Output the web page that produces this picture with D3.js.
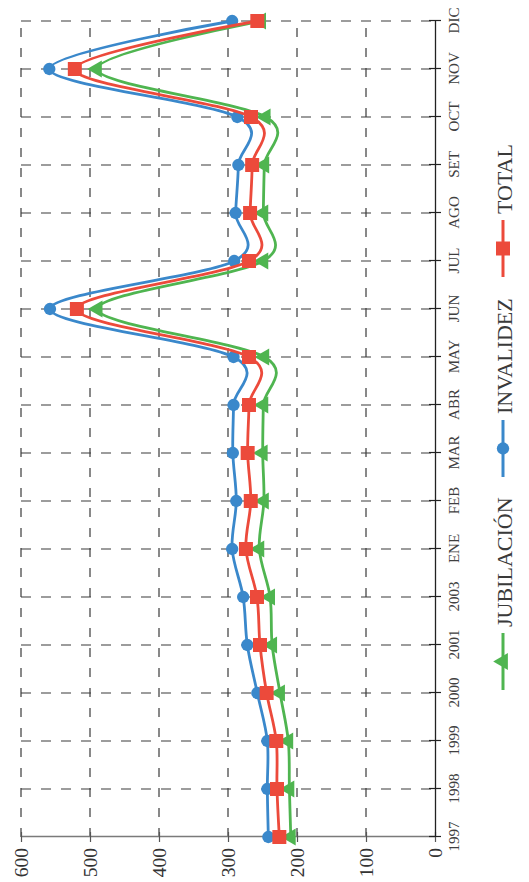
<!DOCTYPE html>
<html><head><meta charset="utf-8">
<script src="https://cdn.jsdelivr.net/npm/d3@7"></script>
<style>html,body{margin:0;padding:0;background:#fff;}</style>
</head><body>
<svg id="chart" width="529" height="882"></svg>
<script>
const categories = ["1997","1998","1999","2000","2001","2003","ENE","FEB","MAR","ABR","MAY","JUN","JUL","AGO","SET","OCT","NOV","DIC"];
const jubilacion = [209, 211, 212.6, 224.6, 236, 239, 254.6, 248, 249.7, 248.8, 247.4, 489, 248.8, 248.8, 247.4, 245.4, 490, 252];
const invalidez  = [241.5, 243, 243, 257.5, 272, 278, 294, 288, 293, 292, 292, 558, 291, 289, 285, 286.5, 559, 294];
const total      = [225.6, 229, 230, 244, 253.6, 258, 274, 267, 271.5, 269.6, 269.6, 519, 269.6, 268, 265, 266.7, 522, 257.5];
const valueTicks = [0, 100, 200, 300, 400, 500, 600];
const seriesNames = ["JUBILACIÓN", "INVALIDEZ", "TOTAL"];

const W = 882, H = 529;
const svg = d3.select("#chart");
// whole chart drawn in landscape coordinates, then rotated 90° counter-clockwise
const g = svg.append("g").attr("transform", `translate(0,${W}) rotate(-90)`);

const x = d3.scalePoint().domain(categories).range([45, 861]);
const y = d3.scaleLinear().domain([0, 600]).range([435, 21]);

const serif = "'Liberation Serif','Times New Roman',serif";
const gridColor = "#3a3a3a";

// value gridlines (dashed)
g.append("g").selectAll("line").data(valueTicks.filter(v => v > 0)).join("line")
  .attr("x1", x.range()[0]).attr("x2", x.range()[1])
  .attr("y1", d => y(d)).attr("y2", d => y(d))
  .attr("stroke", gridColor).attr("stroke-width", 1.2).attr("stroke-dasharray", "9,11");

// category gridlines (dashed)
g.append("g").selectAll("line").data(categories.slice(1)).join("line")
  .attr("x1", d => x(d)).attr("x2", d => x(d))
  .attr("y1", y(600)).attr("y2", y(0))
  .attr("stroke", gridColor).attr("stroke-width", 1.2).attr("stroke-dasharray", "10,10");

// value axis
const yAxis = d3.axisLeft(y).tickValues(valueTicks).tickSize(0).tickPadding(11);
const ya = g.append("g").attr("transform", `translate(${x.range()[0]},0)`).call(yAxis);
ya.select(".domain").attr("stroke", "#7a7a7a").attr("stroke-width", 1.6);
ya.selectAll(".tick text").attr("font-family", serif).attr("font-size", 19.5).attr("fill", "#333");
ya.selectAll(".tick").append("line").attr("x1", -5).attr("x2", 5).attr("stroke", "#555").attr("stroke-width", 1.2);

// category axis
const xAxis = d3.axisBottom(x).tickSize(0).tickPadding(19);
const xa = g.append("g").attr("transform", `translate(0,${y(0)})`).call(xAxis);
xa.select(".domain").attr("stroke", "#222").attr("stroke-width", 1.3);
xa.selectAll(".tick text").attr("font-family", serif).attr("font-size", 15).attr("fill", "#404040").attr("dy", "0.3em");
xa.selectAll(".tick").append("line").attr("y1", -6).attr("y2", 6).attr("stroke", "#222").attr("stroke-width", 1.2);

const colors = {"JUBILACIÓN": "#4fb550", "INVALIDEZ": "#3a88cb", "TOTAL": "#ec4a3b"};
const symbols = {"JUBILACIÓN": d3.symbolTriangle, "INVALIDEZ": d3.symbolCircle, "TOTAL": d3.symbolSquare};
const sizes = {"JUBILACIÓN": 125, "INVALIDEZ": 120, "TOTAL": 196};
const data = {"JUBILACIÓN": jubilacion, "INVALIDEZ": invalidez, "TOTAL": total};

const line = d3.line().x((d, i) => x(categories[i])).y(d => y(d)).curve(d3.curveCardinal.tension(0));

seriesNames.forEach(name => {
  const s = g.append("g");
  s.append("path").datum(data[name]).attr("d", line)
    .attr("fill", "none").attr("stroke", colors[name]).attr("stroke-width", 2.8);
  s.selectAll("path.m").data(data[name]).join("path").attr("class", "m")
    .attr("transform", (d, i) => `translate(${x(categories[i])},${y(d)})`)
    .attr("d", d3.symbol(symbols[name], sizes[name]))
    .attr("fill", colors[name]);
});

// legend
const legendPos = [{name: "JUBILACIÓN", x0: 192}, {name: "INVALIDEZ", x0: 405}, {name: "TOTAL", x0: 605}];
const lg = g.append("g").attr("transform", "translate(0,503)");
legendPos.forEach(p => {
  const it = lg.append("g").attr("transform", `translate(${p.x0},0)`);
  it.append("line").attr("x1", 0).attr("x2", 57).attr("stroke", colors[p.name]).attr("stroke-width", 3);
  it.append("path").attr("transform", "translate(28.5,0)").attr("d", d3.symbol(symbols[p.name], sizes[p.name])).attr("fill", colors[p.name]);
  it.append("text").attr("x", 63).attr("y", 9).attr("font-family", serif).attr("font-size", 22)
    .attr("fill", "#3a3a3a").text(p.name);
});
</script>
</body></html>
